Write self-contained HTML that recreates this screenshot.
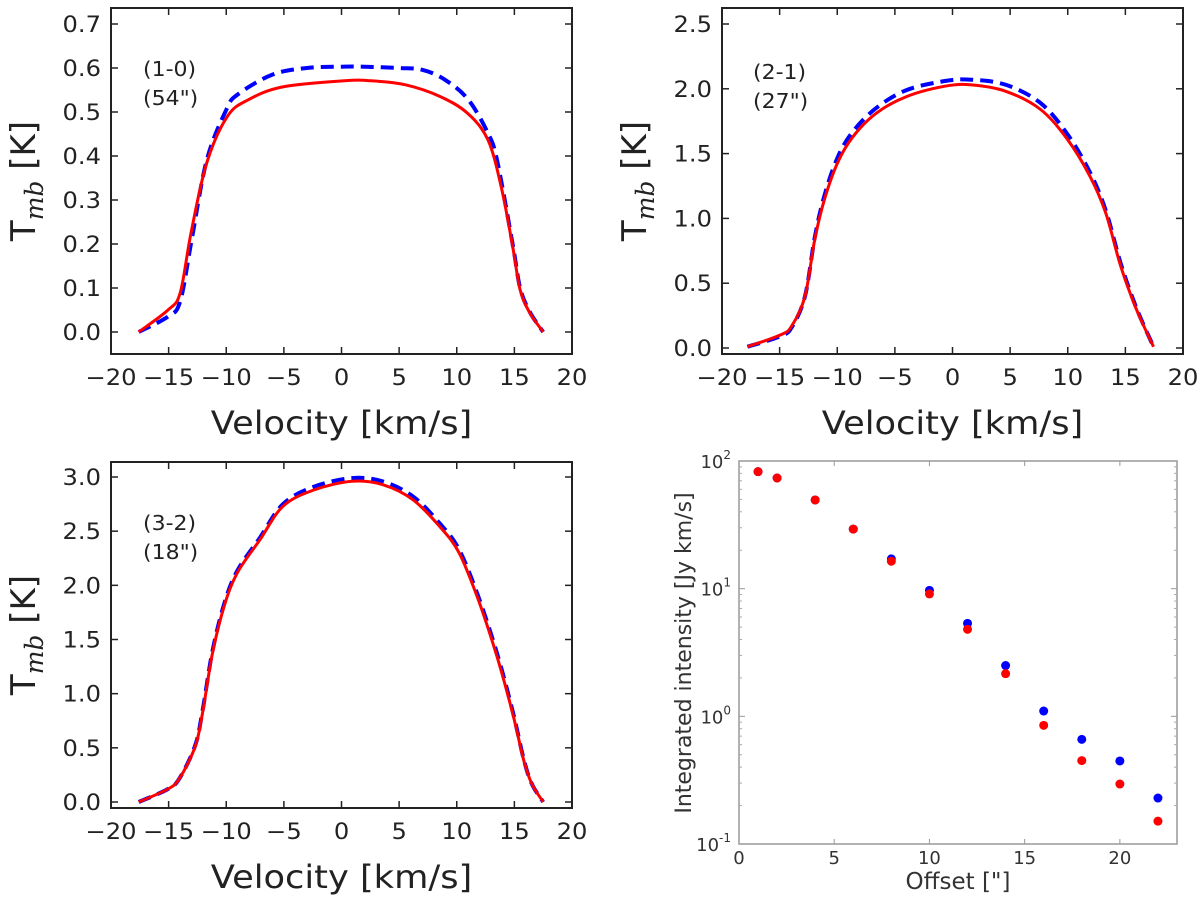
<!DOCTYPE html>
<html><head><meta charset="utf-8"><style>
html,body{margin:0;padding:0;background:#fff;}
svg{display:block;font-family:"DejaVu Sans","Liberation Sans",sans-serif;}
</style></head><body>
<svg id="fig" width="1200" height="899" viewBox="0 0 1200 899" xmlns="http://www.w3.org/2000/svg"></svg>
<script>
// ---- Panel 1 (1-0) data ----
const v10Red = [-17.6,-15.05,-14.0,-13.06,-11.7,-9.9,-8.07,-5.1,0.23,2.56,5.5,8.5,10.9,12.7,13.85,14.85,15.5,16.35,17.5];
const t10Red = [0,0.05,0.089,0.225,0.384,0.49,0.528,0.557,0.571,0.571,0.562,0.536,0.498,0.437,0.331,0.195,0.096,0.043,0];
const v10Blue = [-17.6,-15.05,-14.0,-13.0,-11.7,-10.0,-9.0,-6.0,-3.0,0,2.0,5.0,7.0,9.0,11.0,12.7,13.5,14.85,15.5,16.35,17.5];
const t10Blue = [0,0.035,0.07,0.21,0.39,0.505,0.54,0.585,0.6,0.603,0.603,0.6,0.596,0.573,0.528,0.452,0.39,0.2,0.1,0.045,0];
// ---- Panel 2 (2-1) data ----
const v21Red = [-17.8,-14.95,-13.95,-12.8,-11.96,-11.13,-9.97,-8.64,-6.64,-3.99,-0.66,1.66,4.65,7.64,9.97,11.96,13.3,14.6,15.95,17.44];
const t21Red = [0.01,0.10,0.17,0.40,0.835,1.14,1.43,1.63,1.81,1.94,2.02,2.03,1.98,1.84,1.61,1.32,1.04,0.63,0.30,0.01];
const v21Blue = [-17.8,-14.95,-13.95,-12.8,-11.96,-11.13,-9.97,-8.64,-6.64,-3.99,-0.66,1.66,4.65,7.64,9.97,11.96,13.3,14.6,15.95,17.44];
const t21Blue = [0.01,0.09,0.16,0.40,0.85,1.17,1.47,1.67,1.85,1.99,2.06,2.07,2.03,1.89,1.65,1.35,1.06,0.65,0.31,0.01];
// ---- Panel 3 (3-2) data ----
const v32Red = [-17.6,-15.05,-14.05,-12.7,-12.06,-11.2,-10.2,-9.07,-7.08,-5.08,-2.4,0.9,3.55,6.2,8.54,10.2,11.86,13.5,14.85,15.8,16.5,17.5];
const t32Red = [0,0.12,0.22,0.51,0.82,1.37,1.80,2.11,2.42,2.73,2.88,2.96,2.93,2.79,2.54,2.30,1.87,1.34,0.82,0.39,0.17,0];
const v32Blue = v32Red.slice();
const t32Blue = [0,0.12,0.22,0.52,0.84,1.39,1.82,2.13,2.44,2.75,2.91,2.99,2.96,2.82,2.57,2.33,1.90,1.37,0.84,0.40,0.17,0];
// ---- Panel 4 data ----
const offsets = [1,2,4,6,8,10,12,14,16,18,20,22];
const intBlue = [82.5,73.6,49.5,29.3,17.1,9.7,5.35,2.5,1.1,0.66,0.447,0.229];
const intRed = [82.5,73.6,49.5,29.3,16.4,9.1,4.8,2.16,0.85,0.45,0.295,0.151];
const velTicks = [-20,-15,-10,-5,0,5,10,15,20];
const velTickLabels = ["\u221220","\u221215","\u221210","\u22125","0","5","10","15","20"];
const y10Ticks = [0.0,0.1,0.2,0.3,0.4,0.5,0.6,0.7];
const y21Ticks = [0.0,0.5,1.0,1.5,2.0,2.5];
const y32Ticks = [0.0,0.5,1.0,1.5,2.0,2.5,3.0];
const offTicks = [0,5,10,15,20];
const logTickExps = [-1,0,1,2];

const NS = "http://www.w3.org/2000/svg";
const svg = document.getElementById('fig');
function mk(tag, attrs, parent){const e=document.createElementNS(NS,tag);for(const k in attrs)e.setAttribute(k,attrs[k]);(parent||svg).appendChild(e);return e;}
function lin(d0,d1,p0,p1){return v=>p0+(v-d0)*(p1-p0)/(d1-d0);}
function smoothPath(pts){
  let d='M'+pts[0][0].toFixed(1)+','+pts[0][1].toFixed(1);
  for(let i=0;i<pts.length-1;i++){
    const p0=pts[Math.max(0,i-1)],p1=pts[i],p2=pts[i+1],p3=pts[Math.min(pts.length-1,i+2)];
    const c1=[p1[0]+(p2[0]-p0[0])/6,p1[1]+(p2[1]-p0[1])/6];
    const c2=[p2[0]-(p3[0]-p1[0])/6,p2[1]-(p3[1]-p1[1])/6];
    d+=' C'+c1[0].toFixed(1)+','+c1[1].toFixed(1)+' '+c2[0].toFixed(1)+','+c2[1].toFixed(1)+' '+p2[0].toFixed(1)+','+p2[1].toFixed(1);
  }
  return d;
}
const SX=1.1;
function stext(g,x,y,anchor,size,str){
  const t=mk('text',{transform:`translate(${x} ${y}) scale(${SX} 1)`,x:0,y:0,'text-anchor':anchor,'font-size':size,fill:'#222'},g);
  t.textContent=str;return t;
}

function specPanel(o){
  const g=mk('g',{});
  
  
  const X=lin(-20,20,o.L,o.R), Y=lin(0,o.yRefV,o.y0,o.yRefP);
  mk('rect',{x:o.L,y:o.T,width:o.R-o.L,height:o.B-o.T,fill:'#fff'},g);
  function line(vs,ts,color,w,dash,name){
    const p=mk('path',{d:smoothPath(vs.map((v,i)=>[X(v),Y(ts[i])])),fill:'none',stroke:color,'stroke-width':w,'stroke-linejoin':'round'},g);
    if(dash)p.setAttribute('stroke-dasharray',dash);
    
    
  }
  line(o.vb,o.tb,'#0000ff',4,'13,7','model-line-blue');
  line(o.vr,o.tr,'#ff0000',3,null,'model-line-red');
  mk('rect',{x:o.L,y:o.T,width:o.R-o.L,height:o.B-o.T,fill:'none',stroke:'#222','stroke-width':2},g);
  velTicks.forEach((t,i)=>{const x=X(t);
    mk('line',{x1:x,x2:x,y1:o.B,y2:o.B-7,stroke:'#222','stroke-width':1.5},g);
    mk('line',{x1:x,x2:x,y1:o.T,y2:o.T+7,stroke:'#222','stroke-width':1.5},g);
    const tx=stext(g,x,o.B+31,'middle',22,velTickLabels[i]);
    
  });
  o.yt.forEach(t=>{const y=Y(t);
    mk('line',{x1:o.L,x2:o.L+7,y1:y,y2:y,stroke:'#222','stroke-width':1.5},g);
    mk('line',{x1:o.R,x2:o.R-7,y1:y,y2:y,stroke:'#222','stroke-width':1.5},g);
    const tx=stext(g,o.L-10,y+8,'end',22,t.toFixed(1));
    
  });
  const xl=stext(g,(o.L+o.R)/2,o.B+80,'middle',32,'Velocity [km/s]');
  
  const cy=(o.T+o.B)/2, cx=o.L-76;
  const yl=mk('text',{x:cx,y:cy,'text-anchor':'middle','font-size':34,fill:'#222',transform:`rotate(-90 ${cx} ${cy})`},g);
  yl.innerHTML='T<tspan font-size="25" font-style="italic" font-family="DejaVu Serif, serif" dy="8">mb</tspan><tspan dy="-8"> [K]</tspan>';
  
  const a1=stext(g,o.ax,o.ay,'start',20,o.a1);
  
  const a2=stext(g,o.ax,o.ay+29,'start',20,o.a2);
  
}

specPanel({name:'panel-co-1-0',L:111,R:572,T:8,B:354,y0:332,yRefV:0.7,yRefP:24,yt:y10Ticks,vr:v10Red,tr:t10Red,vb:v10Blue,tb:t10Blue,ax:143,ay:76,a1:'(1-0)',a2:'(54")'});
specPanel({name:'panel-co-2-1',L:722,R:1183,T:8,B:354,y0:348,yRefV:2.5,yRefP:24,yt:y21Ticks,vr:v21Red,tr:t21Red,vb:v21Blue,tb:t21Blue,ax:753,ay:79,a1:'(2-1)',a2:'(27")'});
specPanel({name:'panel-co-3-2',L:111,R:572,T:462,B:808,y0:802,yRefV:3.0,yRefP:477,yt:y32Ticks,vr:v32Red,tr:t32Red,vb:v32Blue,tb:t32Blue,ax:143,ay:530,a1:'(3-2)',a2:'(18")'});

// ---- Panel 4 ----
(function(){
  const L=739,R=1177,T=461,B=844;
  const g=mk('g',{});
  
  
  const X=lin(0,23,L,R);
  const Y=v=>lin(-1,2,B,T)(Math.log10(v));
  mk('rect',{x:L,y:T,width:R-L,height:B-T,fill:'#fff',stroke:'#999','stroke-width':1.5},g);
  offTicks.forEach(t=>{const x=X(t);
    mk('line',{x1:x,x2:x,y1:B,y2:B-5,stroke:'#999'},g);
    mk('line',{x1:x,x2:x,y1:T,y2:T+5,stroke:'#999'},g);
    const tx=mk('text',{x:x,y:B+20,'text-anchor':'middle','font-size':18,fill:'#333'},g);tx.textContent=t;
    
  });
  logTickExps.forEach(e=>{const y=Y(Math.pow(10,e));
    mk('line',{x1:L,x2:L+6,y1:y,y2:y,stroke:'#999'},g);
    mk('line',{x1:R,x2:R-6,y1:y,y2:y,stroke:'#999'},g);
    const tx=mk('text',{x:L-8,y:y+7,'text-anchor':'end','font-size':18,fill:'#333'},g);
    tx.innerHTML='10<tspan font-size="12" dy="-9">'+(e<0?'-1':e)+'</tspan>';
    
    if(e<2){for(let m=2;m<10;m++){const ym=Y(m*Math.pow(10,e));
      mk('line',{x1:L,x2:L+3,y1:ym,y2:ym,stroke:'#aaa'},g);
      mk('line',{x1:R,x2:R-3,y1:ym,y2:ym,stroke:'#aaa'},g);}}
  });
  offsets.forEach((o,i)=>{
    const c=mk('circle',{cx:X(o),cy:Y(intBlue[i]),r:4.5,fill:'#0000ff'},g);
    
    
  });
  offsets.forEach((o,i)=>{
    const c=mk('circle',{cx:X(o),cy:Y(intRed[i]),r:4.5,fill:'#ff0000'},g);
    
    
  });
  const xl=mk('text',{x:958,y:889,'text-anchor':'middle','font-size':23,fill:'#333'},g);xl.textContent='Offset ["]';
  
  const yl=mk('text',{x:691,y:653,'text-anchor':'middle','font-size':22,fill:'#333',transform:'rotate(-90 691 653)'},g);yl.textContent='Integrated intensity [Jy km/s]';
  
})();
</script>
</body></html>
